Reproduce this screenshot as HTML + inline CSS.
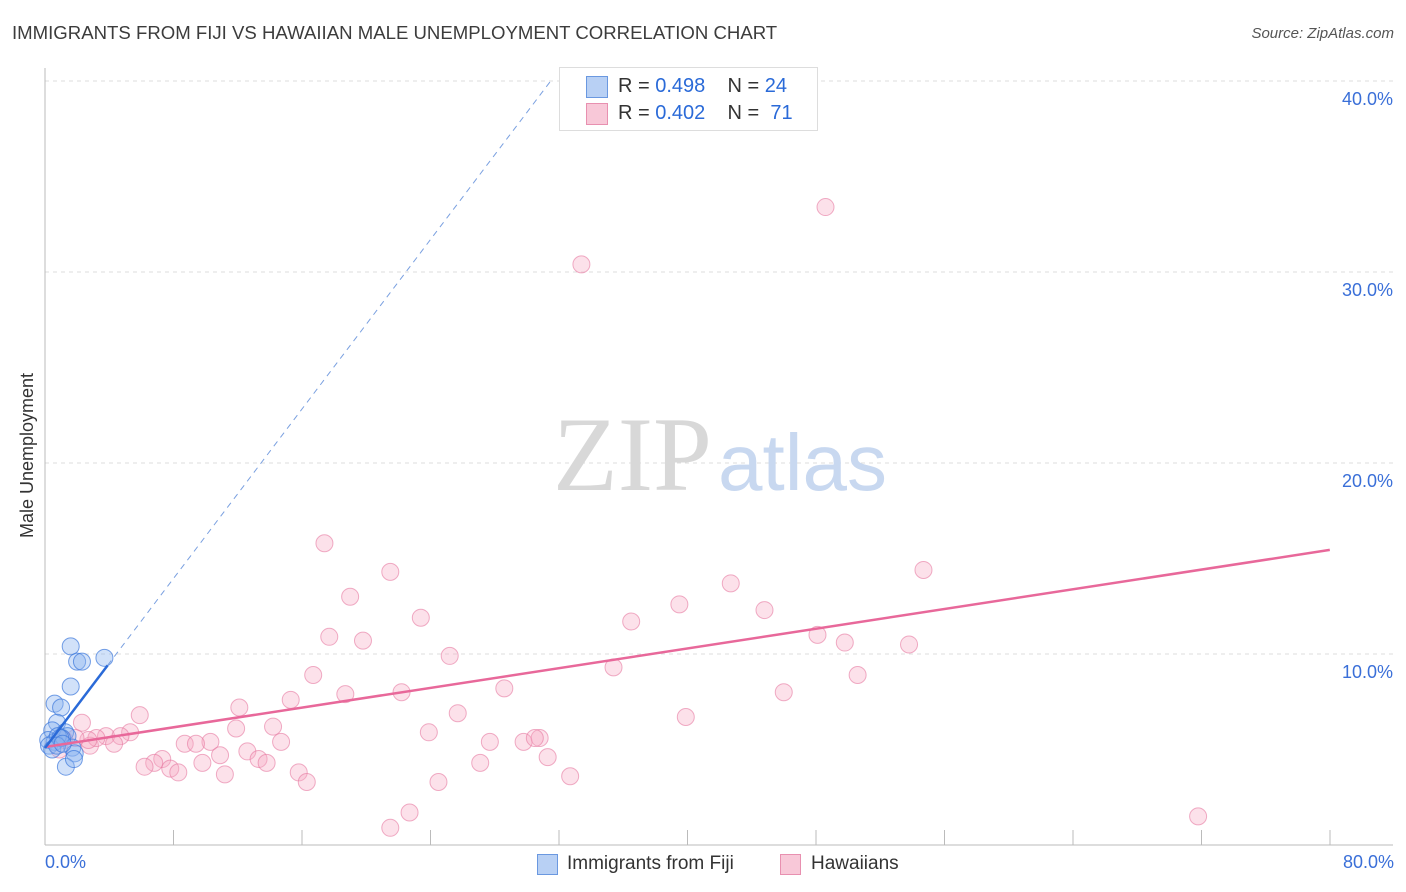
<!DOCTYPE html>
<html><head><meta charset="utf-8"><style>
body{margin:0;background:#fff;font-family:"Liberation Sans",sans-serif;}
#wrap{position:relative;width:1406px;height:892px;overflow:hidden;}
.t{position:absolute;white-space:nowrap;}
</style></head><body>
<div id="wrap">
<div class="t" style="left:12px;top:22px;font-size:18.6px;color:#3c3c3c;">IMMIGRANTS FROM FIJI VS HAWAIIAN MALE UNEMPLOYMENT CORRELATION CHART</div>
<div class="t" style="right:12px;top:25px;font-size:15px;color:#555;font-style:italic;">Source: ZipAtlas.com</div>
<div class="t" style="left:-55px;top:445px;font-size:18px;color:#333;transform:rotate(-90deg);">Male Unemployment</div>
<svg id="svg" width="1406" height="892" style="position:absolute;left:0;top:0"></svg>
</div>
<script>
const fijiX=[1.6,2.0,2.3,3.7,1.6,0.6,1.0,0.75,0.45,1.25,1.4,0.2,0.6,1.05,0.8,0.25,0.45,1.7,1.85,1.3,1.8,0.95,0.75,1.1];
const fijiY=[10.4,9.6,9.6,9.8,8.3,7.4,7.2,6.4,6.0,5.9,5.7,5.5,5.4,5.6,5.7,5.2,5.0,5.1,4.8,4.1,4.5,5.6,5.2,5.3];
const hawX=[48.6,33.4,17.4,21.5,54.7,19.0,42.7,39.5,44.8,23.4,36.5,17.7,19.8,48.1,49.8,53.8,25.2,35.4,16.7,50.6,28.6,46.0,18.7,22.2,15.3,12.1,5.9,25.7,39.9,2.3,11.9,14.2,5.3,3.8,4.7,23.9,27.7,29.8,30.8,30.5,10.3,8.7,9.4,14.7,4.3,2.8,12.6,10.9,7.3,6.8,6.2,13.3,13.8,9.8,31.3,27.1,7.8,8.3,11.2,15.8,16.3,24.5,32.7,22.7,21.5,71.8,3.2,0.9,1.2,2.7,1.9];
const hawY=[33.4,30.4,15.8,14.3,14.4,13.0,13.7,12.6,12.3,11.9,11.7,10.9,10.7,11.0,10.6,10.5,9.9,9.3,8.9,8.9,8.2,8.0,7.9,8.0,7.6,7.2,6.8,6.9,6.7,6.4,6.1,6.2,5.9,5.7,5.7,5.9,5.4,5.4,5.6,5.6,5.4,5.3,5.3,5.4,5.3,5.2,4.9,4.7,4.5,4.3,4.1,4.5,4.3,4.3,4.6,4.3,4.0,3.8,3.7,3.8,3.3,3.3,3.6,1.7,0.9,1.5,5.6,5.0,5.5,5.5,5.6];
const pinkLine=[5.13,15.45];
const blueLine=[5.08,1.109];
const xTicks=[0,10,20,30,40,50,60,70,80];
const yTicks=[10,20,30,40];
const X=v=>45+v*16.06, Y=v=>845-v*19.1;
const svg=document.getElementById('svg');const NS='http://www.w3.org/2000/svg';
function mk(tag,a,name){const e=document.createElementNS(NS,tag);for(const k in a)e.setAttribute(k,a[k]);


svg.appendChild(e);return e;}
yTicks.forEach(t=>{mk('line',{x1:45,x2:1393,y1:Y(t),y2:Y(t),stroke:'#ddd','stroke-dasharray':'4,4'},'gridline');
const tx=mk('text',{x:1393,y:Y(t)+24,'text-anchor':'end','font-size':18,fill:'#3a6fd8','font-family':'Liberation Sans'},'y-tick-label');tx.textContent=t.toFixed(1)+'%';});
mk('line',{x1:45,x2:45,y1:68,y2:845,stroke:'#bbb'},'y-axis-line');
mk('line',{x1:45,x2:1393,y1:845,y2:845,stroke:'#bbb'},'x-axis-line');
for(let i=0;i<=10;i++){const x=45+i*128.5;mk('line',{x1:x,x2:x,y1:830,y2:845,stroke:'#bbb'},'x-tick');}
const w1=mk('text',{x:553,y:490,'font-size':106,fill:'#d8d8d8','font-family':'Liberation Serif'},'watermark-zip');w1.textContent='ZIP';
const w2=mk('text',{x:718,y:490,'font-size':80,fill:'#c8d8f0','font-family':'Liberation Sans'},'watermark-atlas');w2.textContent='atlas';
hawX.forEach((v,i)=>mk('circle',{cx:X(v),cy:Y(hawY[i]),r:8.5,fill:'rgba(246,170,195,0.35)',stroke:'rgba(230,120,160,0.6)','stroke-width':1},'hawaiians-point'));
fijiX.forEach((v,i)=>mk('circle',{cx:X(v),cy:Y(fijiY[i]),r:8.5,fill:'rgba(140,180,240,0.4)',stroke:'rgba(60,120,220,0.7)','stroke-width':1},'fiji-point'));
mk('line',{x1:X(0),y1:Y(pinkLine[0]),x2:X(80),y2:Y(pinkLine[1]),stroke:'#e8689a','stroke-width':2.5},'hawaiians-trend-line');
const xe=(40.1-blueLine[0])/blueLine[1];
mk('line',{x1:X(3.9),y1:Y(blueLine[0]+blueLine[1]*3.9),x2:X(xe),y2:Y(40.1),stroke:'#7aa0e0','stroke-width':1,'stroke-dasharray':'6,5'},'fiji-trend-dashed');
mk('line',{x1:X(0),y1:Y(blueLine[0]),x2:X(3.9),y2:Y(blueLine[0]+blueLine[1]*3.9),stroke:'#2a6ad8','stroke-width':2.5},'fiji-trend-line');
</script>
<div class="t" style="left:45px;top:852px;font-size:18px;color:#3a6fd8;">0.0%</div>
<div class="t" style="right:12px;top:852px;font-size:18px;color:#3a6fd8;">80.0%</div>
<div style="position:absolute;left:559px;top:67px;width:257px;height:62px;border:1px solid #ddd;background:#fff;font-size:20px;color:#333;">
 <div style="position:absolute;left:26px;top:8px;width:20px;height:20px;background:#b8d0f4;border:1px solid #6a98e0;"></div>
 <div class="t" style="left:58px;top:7px;">R = <span style="color:#2a6ad8">0.498</span>&nbsp;&nbsp;&nbsp; N = <span style="color:#2a6ad8">24</span></div>
 <div style="position:absolute;left:26px;top:35px;width:20px;height:20px;background:#f8c8d8;border:1px solid #e890b0;"></div>
 <div class="t" style="left:58px;top:34px;">R = <span style="color:#2a6ad8">0.402</span>&nbsp;&nbsp;&nbsp; N = &nbsp;<span style="color:#2a6ad8">71</span></div>
</div>
<div style="position:absolute;left:537px;top:854px;width:19px;height:19px;background:#b8d0f4;border:1px solid #6a98e0;"></div>
<div class="t" style="left:567px;top:853px;font-size:19px;color:#333;">Immigrants from Fiji</div>
<div style="position:absolute;left:780px;top:854px;width:19px;height:19px;background:#f8c8d8;border:1px solid #e890b0;"></div>
<div class="t" style="left:811px;top:853px;font-size:19px;color:#333;">Hawaiians</div>
</body></html>
